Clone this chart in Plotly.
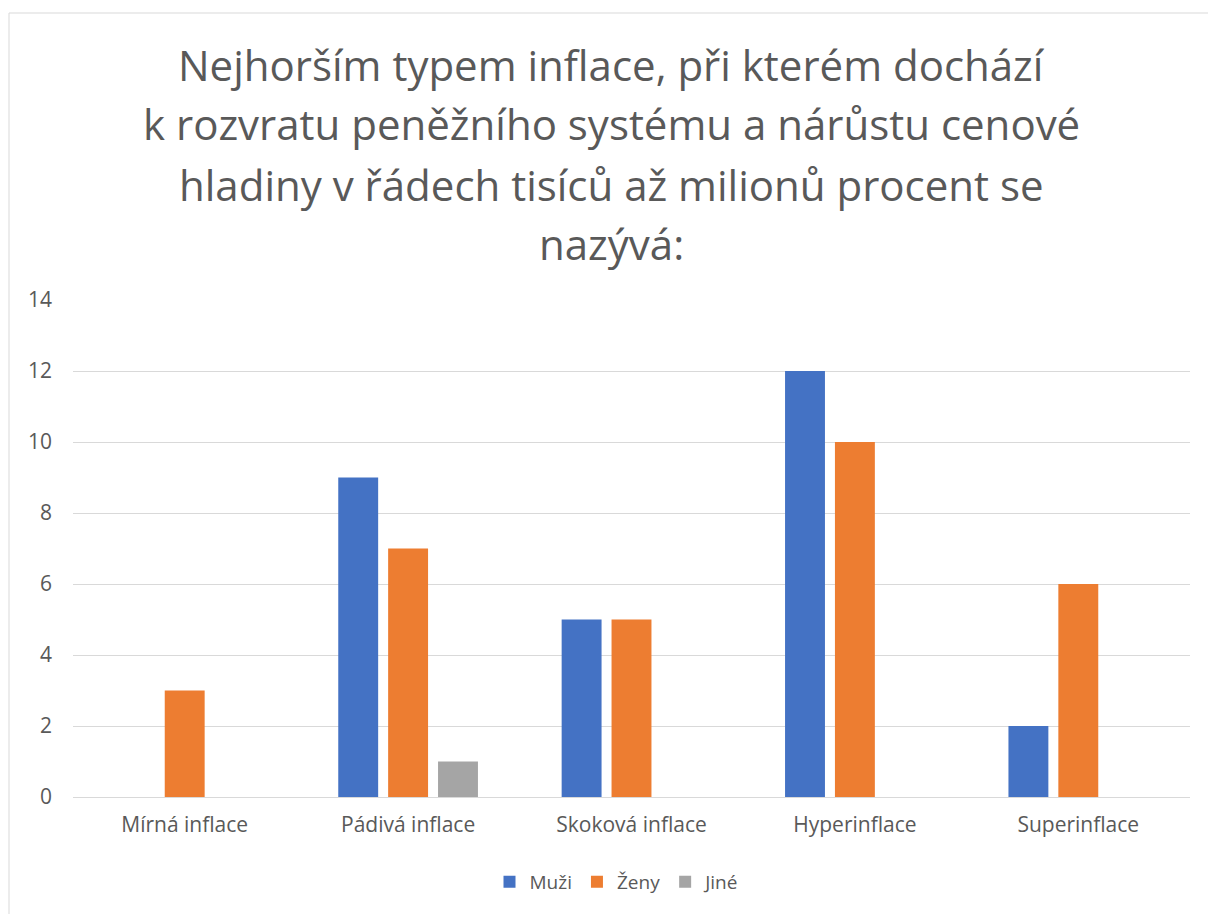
import plotly.graph_objects as go

categories = ["Mírná inflace", "Pádivá inflace", "Skoková inflace", "Hyperinflace", "Superinflace"]
muzi = [0, 9, 5, 12, 2]
zeny = [3, 7, 5, 10, 6]
jine = [0, 1, 0, 0, 0]
series_names = ["Muži", "Ženy", "Jiné"]
colors = ["#4472C4", "#ED7D31", "#A5A5A5"]
title_lines = ["Nejhorším typem inflace, při kterém dochází",
               "k rozvratu peněžního systému a nárůstu cenové",
               "hladiny v řádech tisíců až milionů procent se",
               "nazývá:"]

W, H = 1208, 914
L, R, T, B = 73, 18, 300, 117
pw, ph = W - L - R, H - T - B
FONT = "Open Sans, Noto Sans, sans-serif"
GREY = "#595959"

fig = go.Figure()
for name, vals, c in zip(series_names, [muzi, zeny, jine], colors):
    fig.add_trace(go.Bar(name=name, x=categories, y=vals, marker_color=c,
                         marker_line_width=0))

def px_x(p):
    return (p - L) / pw

def px_y(p):
    return (H - B - p) / ph

fig.add_shape(type="rect", xref="paper", yref="paper",
              x0=px_x(9), x1=px_x(1215), y0=px_y(920), y1=px_y(13),
              line=dict(color="#D9D9D9", width=1), fillcolor="rgba(0,0,0,0)", layer="below")

line_centers = [64, 124, 184, 243]
for txt, yc in zip(title_lines, line_centers):
    fig.add_annotation(text=txt, xref="paper", yref="paper",
                       x=px_x(611), y=px_y(yc), xanchor="center", yanchor="middle",
                       showarrow=False, font=dict(family=FONT, size=42, color=GREY))

fig.update_layout(
    width=W, height=H,
    margin=dict(l=L, r=R, t=T, b=B),
    paper_bgcolor="white", plot_bgcolor="white",
    font=dict(family=FONT, color=GREY, size=20),
    barmode="group", bargap=0.33, bargroupgap=0.2,
    showlegend=True,
    legend=dict(orientation="h", x=px_x(617), xanchor="center",
                y=px_y(882), yanchor="middle", font=dict(size=19, color=GREY),
                traceorder="normal"),
    xaxis=dict(showgrid=False, showline=True, linecolor="#D9D9D9", linewidth=1,
               ticks="", tickfont=dict(size=21, color=GREY), ticklabelstandoff=9),
    yaxis=dict(range=[0, 14], dtick=2, showgrid=True, gridcolor="#D9D9D9", gridwidth=1,
               zeroline=False, showline=False, ticks="",
               tickfont=dict(size=21, color=GREY), ticklabelstandoff=20),
)

fig.write_html("out.html", config={"displayModeBar": False},
               post_script="document.body.style.margin='0px';")
